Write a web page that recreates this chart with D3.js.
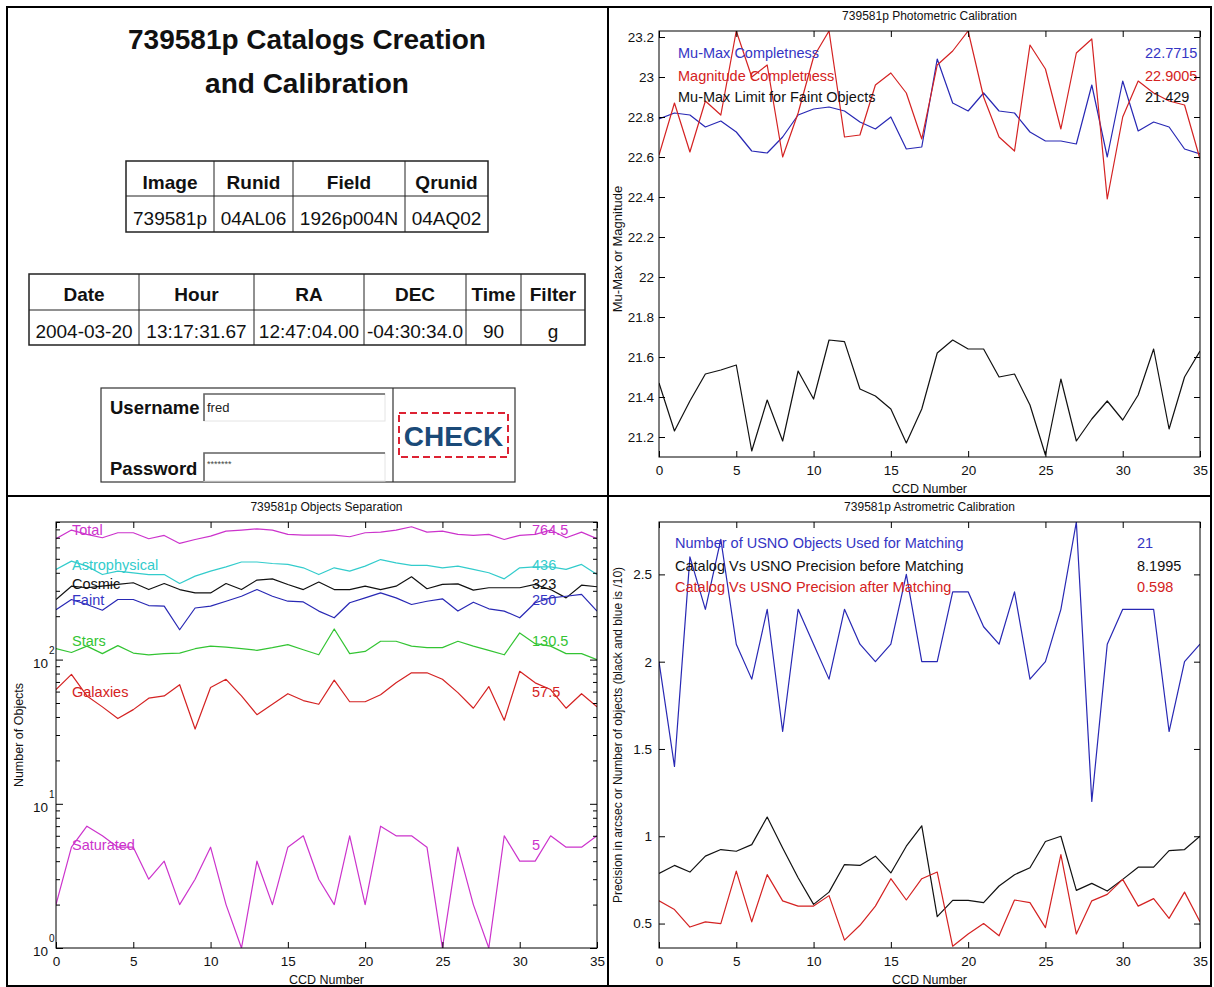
<!DOCTYPE html>
<html>
<head>
<meta charset="utf-8">
<script src="https://cdn.jsdelivr.net/npm/d3@7"></script>
<style>
  html, body { margin: 0; padding: 0; background: #fff; }
  svg { display: block; }
  text { font-family: 'Liberation Sans', Arial, Helvetica, sans-serif; }
</style>
</head>
<body>
<svg id="page" width="1214" height="987"></svg>
<script>
// ---------------- DATA ----------------
const ccdNumbers = [0,1,2,3,4,5,6,7,8,9,10,11,12,13,14,15,16,17,18,19,20,21,22,23,24,25,26,27,28,29,30,31,32,33,34,35];
const xTicks = [0,5,10,15,20,25,30,35];

// Header / info tables
const pageTitle = ["739581p Catalogs Creation", "and Calibration"];
const table1Head = ["Image", "Runid", "Field", "Qrunid"];
const table1Row = ["739581p", "04AL06", "1926p004N", "04AQ02"];
const table2Head = ["Date", "Hour", "RA", "DEC", "Time", "Filter"];
const table2Row = ["2004-03-20", "13:17:31.67", "12:47:04.00", "-04:30:34.0", "90", "g"];

// Photometric calibration
const muMaxCompleteness = [22.79,22.82,22.81,22.75,22.78,22.725,22.63,22.62,22.70,22.81,22.84,22.85,22.83,22.775,22.74,22.80,22.64,22.65,23.09,22.87,22.83,22.92,22.83,22.82,22.725,22.68,22.68,22.665,22.96,22.60,22.98,22.73,22.775,22.75,22.64,22.615];
const magnitudeCompleteness = [22.61,22.87,22.625,22.88,22.81,23.23,23.0,23.06,22.6,22.82,23.1,23.23,22.7,22.71,22.96,23.02,22.92,22.69,23.06,23.13,23.23,22.9,22.7,22.63,23.16,23.04,22.74,23.12,23.19,22.39,22.8,22.98,22.92,22.88,22.86,22.59];
const muMaxLimitFaint = [21.47,21.23,21.38,21.515,21.535,21.56,21.13,21.385,21.18,21.53,21.39,21.685,21.677,21.44,21.405,21.34,21.17,21.34,21.62,21.685,21.64,21.64,21.5,21.515,21.36,21.11,21.49,21.18,21.29,21.38,21.285,21.41,21.64,21.24,21.5,21.63];
const photLabels = ["Mu-Max Completness", "Magnitude Completness", "Mu-Max Limit for Faint Objects"];
const photValues = ["22.7715", "22.9005", "21.429"];
const photYTicks = [21.2,21.4,21.6,21.8,22,22.2,22.4,22.6,22.8,23,23.2];

// Objects separation (log scale)
const totalObjects = [689,791,738,700,758,758,689,726,639,681,718,778,791,807,791,738,730,730,730,711,758,766,791,834,766,778,738,726,738,681,726,738,791,700,766,689];
const astrophysical = [422,482,445,389,411,400,389,389,337,379,411,440,475,475,464,457,433,389,433,411,445,494,469,450,450,433,445,422,400,363,433,440,440,422,457,389];
const cosmic = [261,323,315,323,332,341,306,337,306,290,290,337,306,356,363,332,306,345,306,306,323,306,323,375,310,332,335,303,315,315,315,332,306,268,328,320];
const faint = [222,261,241,220,261,261,237,235,161,228,235,254,275,306,275,254,251,217,195,248,268,290,268,241,254,264,217,250,225,217,195,248,268,275,283,217];
const stars = [119,112,124,110,125,111,108,110,111,119,124,122,119,116,121,127,117,108,163,110,114,134,134,124,121,121,134,124,116,108,153,129,124,110,110,100];
const galaxies = [62,79,56,47,39,45,54,56,67,33,64,73,56,41.5,49,58,52,49,72,51,51,57,69,81,81,73,59,46,65,38,83,69,62,46,58,47];
const saturated = [2,5,7,6,5,5,3,4,2,3,5,2,1,4,2,5,6,3,2,6,2,7,6,6,5,1,5,2,1,6,4,4,6,5,5,6];
const objNames = ["Total","Astrophysical","Cosmic","Faint","Stars","Galaxies","Saturated"];
const objMedians = [764.5, 436, 323, 250, 130.5, 57.5, 5];
const objMedianLabels = ["764.5","436","323","250","130.5","57.5","5"];
const logMajorTicks = [1, 10, 100];
const logMajorExp = ["0", "1", "2"];
const logMinorTicks = [2,3,4,5,6,7,8,9,20,30,40,50,60,70,80,90,200,300,400,500,600,700,800,900];

// Astrometric calibration
const usnoObjectsTenths = [2.0,1.4,2.6,2.3,2.7,2.1,1.9,2.3,1.6,2.3,2.1,1.9,2.3,2.1,2.0,2.1,2.5,2.0,2.0,2.4,2.4,2.2,2.1,2.4,1.9,2.0,2.3,2.8,1.2,2.1,2.3,2.3,2.3,1.6,2.0,2.1];
const precisionBefore = [0.787,0.833,0.795,0.886,0.924,0.914,0.952,1.11,0.933,0.762,0.61,0.68,0.838,0.833,0.886,0.79,0.943,1.06,0.54,0.633,0.633,0.62,0.715,0.78,0.82,0.97,1.0,0.69,0.73,0.686,0.753,0.823,0.823,0.918,0.924,1.0];
const precisionAfter = [0.63,0.58,0.48,0.51,0.5,0.8,0.51,0.78,0.63,0.6,0.6,0.66,0.405,0.49,0.6,0.757,0.635,0.757,0.795,0.37,0.44,0.5,0.43,0.635,0.62,0.477,0.895,0.44,0.63,0.667,0.753,0.6,0.643,0.53,0.68,0.51];
const astLabels = ["Number of USNO Objects Used for Matching", "Catalog Vs USNO Precision before Matching", "Catalog Vs USNO Precision after Matching"];
const astValues = ["21", "8.1995", "0.598"];
const astYTicks = [0.5, 1, 1.5, 2, 2.5];

// ---------------- STYLE ----------------
const C = {
  blue: "#2828b4", blueText: "#3535c4",
  red: "#d42222", black: "#111111",
  magenta: "#cc33cc", cyan: "#33cccc", green: "#33c433"
};
const svg = d3.select("#page");

// ---------------- FRAME ----------------
svg.append("rect").attr("x", 7).attr("y", 7).attr("width", 1204).attr("height", 979)
  .attr("fill", "none").attr("stroke", "#000").attr("stroke-width", 2);
svg.append("line").attr("x1", 608).attr("x2", 608).attr("y1", 7).attr("y2", 986)
  .attr("stroke", "#000").attr("stroke-width", 2);
svg.append("line").attr("x1", 7).attr("x2", 1211).attr("y1", 496).attr("y2", 496)
  .attr("stroke", "#000").attr("stroke-width", 2);

// ---------------- TOP-LEFT PANEL ----------------
const tl = svg.append("g");
tl.selectAll("text.title").data(pageTitle).join("text")
  .attr("x", 307).attr("y", (d, i) => [48.5, 92.5][i])
  .attr("text-anchor", "middle").attr("font-size", 28).attr("font-weight", "bold")
  .attr("fill", "#111").text(d => d);

function drawTable(g, cols, top, mid, bottom, head, row, headBase, rowBase) {
  g.append("rect").attr("x", cols[0]).attr("y", top).attr("width", cols[cols.length-1]-cols[0])
    .attr("height", bottom-top).attr("fill", "none").attr("stroke", "#222").attr("stroke-width", 1.5);
  g.append("line").attr("x1", cols[0]).attr("x2", cols[cols.length-1]).attr("y1", mid).attr("y2", mid)
    .attr("stroke", "#222").attr("stroke-width", 1);
  cols.slice(1, -1).forEach(c => g.append("line").attr("x1", c).attr("x2", c).attr("y1", top).attr("y2", bottom)
    .attr("stroke", "#222").attr("stroke-width", 1));
  head.forEach((h, i) => g.append("text").attr("x", (cols[i]+cols[i+1])/2).attr("y", headBase)
    .attr("text-anchor", "middle").attr("font-size", 19).attr("font-weight", "bold").attr("fill", "#111").text(h));
  row.forEach((h, i) => g.append("text").attr("x", (cols[i]+cols[i+1])/2).attr("y", rowBase)
    .attr("text-anchor", "middle").attr("font-size", 19).attr("fill", "#111").text(h));
}
drawTable(tl, [126, 214, 293, 405, 488], 161, 196, 232, table1Head, table1Row, 189, 224.5);
drawTable(tl, [29, 139, 254, 364, 466, 521, 585], 274, 310, 345, table2Head, table2Row, 301, 337.5);

// login form
tl.append("rect").attr("x", 101).attr("y", 388).attr("width", 414).attr("height", 94)
  .attr("fill", "none").attr("stroke", "#333").attr("stroke-width", 1.2);
tl.append("line").attr("x1", 393).attr("x2", 393).attr("y1", 388).attr("y2", 482)
  .attr("stroke", "#333").attr("stroke-width", 1.2);
tl.append("text").attr("x", 110).attr("y", 414).attr("font-size", 18.5).attr("font-weight", "bold").attr("fill", "#111").text("Username");
tl.append("text").attr("x", 110).attr("y", 475).attr("font-size", 18.5).attr("font-weight", "bold").attr("fill", "#111").text("Password");
function inputBox(y0, y1) {
  tl.append("rect").attr("x", 204).attr("y", y0).attr("width", 181).attr("height", y1-y0)
    .attr("fill", "#fff").attr("stroke", "#e4e4e4").attr("stroke-width", 1);
  tl.append("path").attr("d", `M204,${y1} L204,${y0} L385,${y0}`)
    .attr("fill", "none").attr("stroke", "#666").attr("stroke-width", 1.6);
}
inputBox(394, 421);
inputBox(453, 481);
tl.append("text").attr("x", 207).attr("y", 412).attr("font-size", 13).attr("fill", "#222").text("fred");
tl.append("text").attr("x", 207).attr("y", 467).attr("font-size", 9).attr("fill", "#444").text("*******");
tl.append("rect").attr("x", 399).attr("y", 413).attr("width", 109).attr("height", 44)
  .attr("fill", "none").attr("stroke", "#dd2233").attr("stroke-width", 2).attr("stroke-dasharray", "7,4");
tl.append("text").attr("x", 453.5).attr("y", 445.5).attr("text-anchor", "middle")
  .attr("font-family", "'Open Sans', 'DejaVu Sans', sans-serif").attr("font-weight", 600)
  .attr("font-size", 28).attr("fill", "#1b4a78").text("CHECK");

// ---------------- CHART HELPERS ----------------
function frameAndAxes(g, x, y, opts) {
  const [xl, xr] = x.range();
  const [yb, yt] = y.range();
  g.append("rect").attr("x", xl).attr("y", yt).attr("width", xr-xl).attr("height", yb-yt)
    .attr("fill", "none").attr("stroke", "#000").attr("stroke-width", 1);
  const styleAxis = sel => { sel.select(".domain").remove();
    sel.selectAll("line").attr("stroke", "#000");
    sel.selectAll("text").attr("font-size", 13.5).attr("fill", "#111")
      .attr("font-family", "'Liberation Sans', Arial, sans-serif"); };
  g.append("g").attr("transform", `translate(0,${yb})`)
    .call(d3.axisBottom(x).tickValues(xTicks).tickSize(-6).tickSizeOuter(0).tickPadding(8)).call(styleAxis);
  g.append("g").attr("transform", `translate(0,${yt})`)
    .call(d3.axisTop(x).tickValues(xTicks).tickSize(-6).tickSizeOuter(0).tickFormat("")).call(styleAxis);
  g.append("g").attr("transform", `translate(${xl},0)`)
    .call(d3.axisLeft(y).tickValues(opts.yTicks).tickSize(-opts.tick).tickSizeOuter(0)
      .tickPadding(opts.pad).tickFormat(opts.fmt)).call(styleAxis);
  g.append("g").attr("transform", `translate(${xr},0)`)
    .call(d3.axisRight(y).tickValues(opts.yTicks).tickSize(-opts.tick).tickSizeOuter(0).tickFormat("")).call(styleAxis);
  // titles
  g.append("text").attr("x", (xl+xr)/2).attr("y", yt-11).attr("text-anchor", "middle")
    .attr("font-size", 12).attr("fill", "#111").text(opts.title);
  g.append("text").attr("x", (xl+xr)/2).attr("y", yb+36).attr("text-anchor", "middle")
    .attr("font-size", 12.5).attr("fill", "#111").text("CCD Number");
  g.append("text").attr("transform", `translate(${opts.yTitleX},${(yb+yt)/2 + opts.yTitleDy}) rotate(-90)`)
    .attr("text-anchor", "middle").attr("dominant-baseline", "central")
    .attr("font-size", opts.yTitleSize).attr("fill", "#111").text(opts.yTitle);
}
function series(g, x, y, data, color) {
  g.append("path").datum(data)
    .attr("d", d3.line().x((d, i) => x(ccdNumbers[i])).y(d => y(d)))
    .attr("fill", "none").attr("stroke", color).attr("stroke-width", 1.2).attr("stroke-linejoin", "round");
}
function clipFor(id, x, y) {
  const [xl, xr] = x.range(); const [yb, yt] = y.range();
  svg.append("clipPath").attr("id", id).append("rect")
    .attr("x", xl).attr("y", yt).attr("width", xr-xl).attr("height", yb-yt);
}

// ---------------- TOP-RIGHT: PHOTOMETRIC ----------------
{
  const x = d3.scaleLinear().domain([0, 35]).range([659, 1200]);
  const y = d3.scaleLinear().domain([21.1, 23.23]).range([457, 31]);
  const g = svg.append("g");
  clipFor("clipPhot", x, y);
  const lines = g.append("g").attr("clip-path", "url(#clipPhot)");
  series(lines, x, y, muMaxCompleteness, C.blue);
  series(lines, x, y, magnitudeCompleteness, C.red);
  series(lines, x, y, muMaxLimitFaint, C.black);
  const cols = [C.blueText, C.red, C.black];
  photLabels.forEach((t, i) => {
    g.append("text").attr("x", 678).attr("y", [58, 81, 102][i]).attr("font-size", 14.5).attr("fill", cols[i]).text(t);
    g.append("text").attr("x", 1145).attr("y", [58, 81, 102][i]).attr("font-size", 14.5).attr("fill", cols[i]).text(photValues[i]);
  });
  frameAndAxes(g, x, y, { yTicks: photYTicks, tick: 6, pad: 5, fmt: d3.format("~g"),
    title: "739581p Photometric Calibration", yTitle: "Mu-Max or Magnitude", yTitleX: 617,
    yTitleDy: 5, yTitleSize: 13 });
}

// ---------------- BOTTOM-LEFT: OBJECTS SEPARATION ----------------
{
  const x = d3.scaleLinear().domain([0, 35]).range([56, 597]);
  const y = d3.scaleLog().domain([1, 900]).range([948, 522]);
  const g = svg.append("g");
  clipFor("clipObj", x, y);
  const lines = g.append("g").attr("clip-path", "url(#clipObj)");
  const objSeries = [totalObjects, astrophysical, cosmic, faint, stars, galaxies, saturated];
  const objColors = [C.magenta, C.cyan, C.black, C.blue, C.green, C.red, C.magenta];
  const textColors = [C.magenta, C.cyan, C.black, C.blueText, C.green, C.red, C.magenta];
  objSeries.forEach((s, i) => series(lines, x, y, s, objColors[i]));
  objNames.forEach((n, i) => {
    g.append("text").attr("x", 72).attr("y", y(objMedians[i]) + 3).attr("font-size", 14.5).attr("fill", textColors[i]).text(n);
    g.append("text").attr("x", 532).attr("y", y(objMedians[i]) + 3).attr("font-size", 14.5).attr("fill", textColors[i]).text(objMedianLabels[i]);
  });
  frameAndAxes(g, x, y, { yTicks: logMajorTicks, tick: 7, pad: 3, fmt: () => "",
    title: "739581p Objects Separation", yTitle: "Number of Objects", yTitleX: 19,
    yTitleDy: 0, yTitleSize: 12.5 });
  // minor log ticks (left and right)
  g.append("g").attr("transform", `translate(56,0)`)
    .call(d3.axisLeft(y).tickValues(logMinorTicks).tickSize(-4).tickFormat(""))
    .call(s => { s.select(".domain").remove(); s.selectAll("line").attr("stroke", "#000"); });
  g.append("g").attr("transform", `translate(597,0)`)
    .call(d3.axisRight(y).tickValues(logMinorTicks).tickSize(-4).tickFormat(""))
    .call(s => { s.select(".domain").remove(); s.selectAll("line").attr("stroke", "#000"); });
  // 10^n labels
  logMajorTicks.forEach((v, i) => {
    g.append("text").attr("x", 48).attr("y", y(v) + 8).attr("text-anchor", "end")
      .attr("font-size", 13.5).attr("fill", "#111").text("10");
    g.append("text").attr("x", 49).attr("y", y(v) - 6).attr("font-size", 10).attr("fill", "#111").text(logMajorExp[i]);
  });
}

// ---------------- BOTTOM-RIGHT: ASTROMETRIC ----------------
{
  const x = d3.scaleLinear().domain([0, 35]).range([659, 1200]);
  const y = d3.scaleLinear().domain([0.36, 2.8]).range([948, 522]);
  const g = svg.append("g");
  clipFor("clipAst", x, y);
  const lines = g.append("g").attr("clip-path", "url(#clipAst)");
  series(lines, x, y, usnoObjectsTenths, C.blue);
  series(lines, x, y, precisionBefore, C.black);
  series(lines, x, y, precisionAfter, C.red);
  const cols = [C.blueText, C.black, C.red];
  astLabels.forEach((t, i) => {
    g.append("text").attr("x", 675).attr("y", [548, 571, 592][i]).attr("font-size", 14.5).attr("fill", cols[i]).text(t);
    g.append("text").attr("x", 1137).attr("y", [548, 571, 592][i]).attr("font-size", 14.5).attr("fill", cols[i]).text(astValues[i]);
  });
  frameAndAxes(g, x, y, { yTicks: astYTicks, tick: 6, pad: 7, fmt: d3.format("~g"),
    title: "739581p Astrometric Calibration",
    yTitle: "Precision in arcsec or Number of objects (black and blue is /10)", yTitleX: 618,
    yTitleDy: 0, yTitleSize: 12 });
}
</script>
</body>
</html>
